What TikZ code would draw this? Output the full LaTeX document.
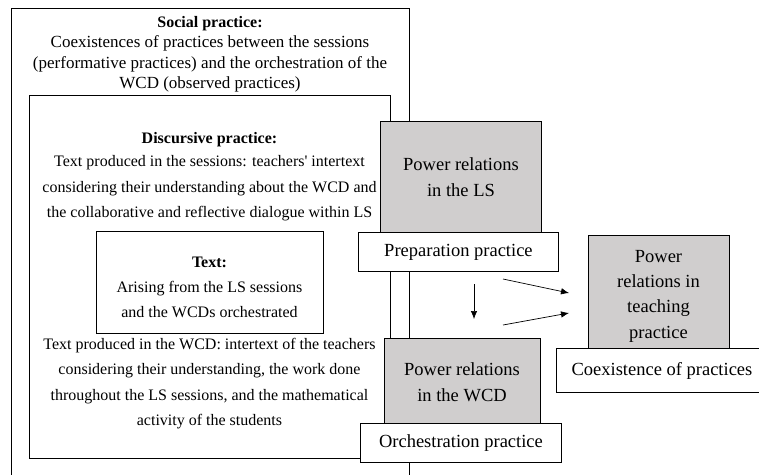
\documentclass[tikz,border=0pt]{standalone}
\usepackage{fontspec}
\setmainfont{Liberation Serif}
\usetikzlibrary{arrows.meta}
\definecolor{boxgray}{RGB}{208,206,206}
\begin{document}
\begin{tikzpicture}[x=1pt,y=-1pt,
  frame/.style={draw, line width=0.9pt, rectangle, inner sep=0pt, anchor=north west},
  graybox/.style={frame, fill=boxgray, align=center, font=\fontsize{18.5}{26}\selectfont},
  whitebox/.style={frame, fill=white, align=center, font=\fontsize{18.5}{26}\selectfont},
  bodytext/.style={align=center, inner sep=0pt, font=\fontsize{16}{25.5}\selectfont},
  titletext/.style={align=center, inner sep=0pt, font=\fontsize{16}{20}\selectfont\bfseries},
  arr/.style={line width=0.7pt, -{Latex[length=8pt,width=6.5pt]}}]
\clip (0,0) rectangle (759,474);
\fill[white] (0,0) rectangle (759,474);
% outer and inner frames
\node[frame, minimum width=398pt, minimum height=490pt] (social) at (11,8) {};
\node[frame, minimum width=361pt, minimum height=363pt] (discursive) at (29,95) {};
\node[frame, minimum width=227pt, minimum height=102pt] (textbox) at (96,231) {};
% texts
\node[titletext] (socialtitle) at (210,24) {Social practice:};
\node[align=center, inner sep=0pt, font=\fontsize{17}{20.5}\selectfont] (socialbody) at (210,64)
  {Coexistences of practices between the sessions\\(performative practices) and the orchestration of the\\WCD (observed practices)};
\node[titletext] (disctitle) at (209.5,140) {Discursive practice:};
\node[bodytext] (discupper) at (209.5,188.5)
  {Text produced in the sessions: teachers\textquotesingle{} intertext\\considering their understanding about the WCD and\\the collaborative and reflective dialogue within LS};
\node[titletext] (texttitle) at (209.5,262) {Text:};
\node[bodytext] (textbody) at (209.5,299.5)
  {Arising from the LS sessions\\and the WCDs orchestrated};
\node[bodytext] (disclower) at (209.5,383.5)
  {Text produced in the WCD: intertext of the teachers\\considering their understanding, the work done\\throughout the LS sessions, and the mathematical\\activity of the students};
% gray and white boxes
\node[graybox, minimum width=161pt, minimum height=111pt] (powerLS) at (380,121) {Power relations\\in the LS};
\node[whitebox, minimum width=200pt, minimum height=39pt] (prep) at (358,232) {Preparation practice};
\node[graybox, minimum width=141pt, minimum height=113pt] (powerteach) at (588,235) {};
\node[align=center, inner sep=0pt, font=\fontsize{18.5}{25.3}\selectfont] (powerteachtext) at (658.5,296) {Power\\relations in\\teaching\\practice};
\node[whitebox, minimum width=211pt, minimum height=44pt] (coex) at (556,348) {Coexistence of practices};
\node[graybox, minimum width=156pt, minimum height=85pt] (powerWCD) at (384,338) {};
\node[align=center, inner sep=0pt, font=\fontsize{18.5}{26}\selectfont] (powerWCDtext) at (462,382) {Power relations\\in the WCD};
\node[whitebox, minimum width=201pt, minimum height=39pt] (orch) at (360,423) {Orchestration practice};
% arrows
\coordinate (a1s) at (474,284);
\coordinate (a1e) at (474,319);
\coordinate (a2s) at (503,279);
\coordinate (a2e) at (569,293);
\coordinate (a3s) at (503,325);
\coordinate (a3e) at (569,313);
\draw[arr] (a1s) -- (a1e);
\draw[arr] (a2s) -- (a2e);
\draw[arr] (a3s) -- (a3e);
\end{tikzpicture}
\end{document}
